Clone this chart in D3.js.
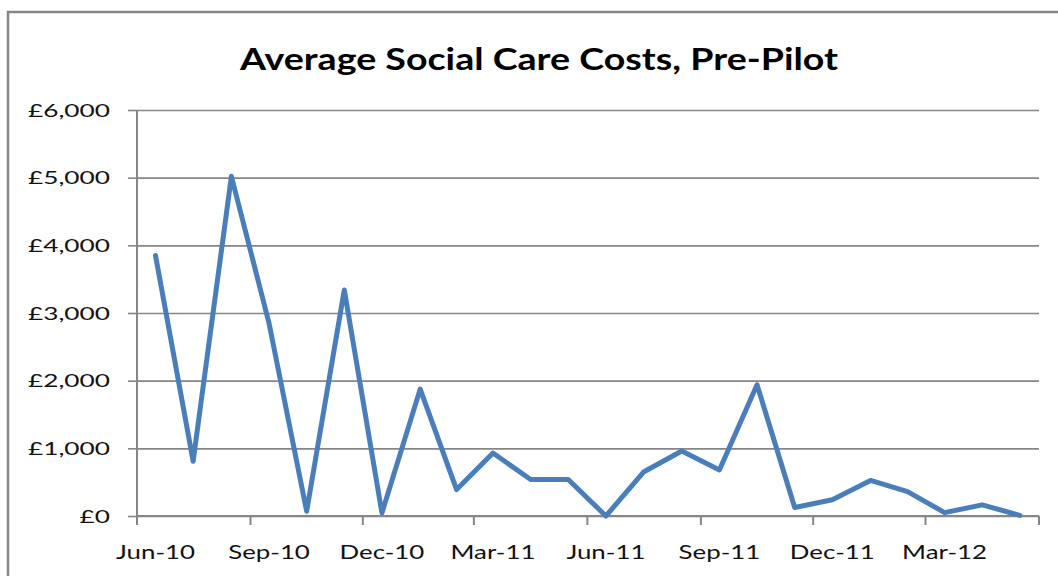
<!DOCTYPE html>
<html>
<head>
<meta charset="utf-8">
<script src="https://cdn.jsdelivr.net/npm/d3@7"></script>
<style>
  html, body { margin: 0; padding: 0; background: #fff; }
  svg { display: block; }
</style>
</head>
<body>
<svg id="chart" width="1058" height="576"></svg>
<script>
// ---- data ----
const title = "Average Social Care Costs, Pre-Pilot";
const months = ["2010-06","2010-07","2010-08","2010-09","2010-10","2010-11","2010-12",
                "2011-01","2011-02","2011-03","2011-04","2011-05","2011-06","2011-07",
                "2011-08","2011-09","2011-10","2011-11","2011-12","2012-01","2012-02",
                "2012-03","2012-04","2012-05"];
const costs = [3850, 810, 5020, 2850, 70, 3340, 45,
               1875, 390, 930, 540, 540, 0, 650,
               960, 680, 1940, 125, 240, 525, 360,
               50, 165, 10];
const xTickMonths = ["2010-06","2010-09","2010-12","2011-03","2011-06","2011-09","2011-12","2012-03","2012-06"];
const xTickLabels = ["Jun-10","Sep-10","Dec-10","Mar-11","Jun-11","Sep-11","Dec-11","Mar-12"];
const yTicks = [0, 1000, 2000, 3000, 4000, 5000, 6000];

// ---- layout ----
const svg = d3.select("#chart");
const pL = 137, pR = 1039, pT = 110, pB = 516;
const parse = d3.utcParse("%Y-%m");
const x = d3.scaleUtc()
  .domain([parse("2010-06"), parse("2012-06")])
  .range([pL, pR]);
const y = d3.scaleLinear().domain([0, 6000]).range([pB, pT]);
const mid = d => {
  const s = parse(d), e = d3.utcMonth.offset(s, 1);
  return new Date((+s + +e) / 2);
};
const gray = "#868686";

// outer border
svg.append("rect").attr("x", 8).attr("y", 12).attr("width", 1100).attr("height", 700)
  .attr("fill", "none").attr("stroke", gray).attr("stroke-width", 2.5);

// title
svg.append("text").attr("x", 539).attr("y", 70).attr("text-anchor", "middle")
  .attr("font-family", "Lato, 'Open Sans', sans-serif").attr("font-weight", "bold")
  .attr("font-size", 31).attr("fill", "#000").text(title)
  .attr("textLength", 598).attr("lengthAdjust", "spacingAndGlyphs");

// y axis gridlines
const yAxis = d3.axisLeft(y).tickValues(yTicks).tickSize(-(pR - pL))
  .tickFormat(d => "£" + d3.format(",")(d));
const gy = svg.append("g").attr("transform", `translate(${pL},0)`).call(yAxis);
gy.select(".domain").remove();
gy.selectAll(".tick line").attr("stroke", gray).attr("stroke-width", 1.6);
gy.selectAll(".tick").append("line").attr("x1", -9).attr("x2", 0)
  .attr("stroke", gray).attr("stroke-width", 1.6);
gy.selectAll(".tick text").attr("x", -27).attr("dy", "0.36em")
  .attr("font-family", "Lato, sans-serif").attr("font-weight", 400)
  .attr("font-size", 17.5).attr("fill", "#111");
const yRef = gy.selectAll(".tick text").filter(d => d === 6000).node();
const yStretch = 82 / yRef.getComputedTextLength();
gy.selectAll(".tick text").each(function() {
  const w = this.getComputedTextLength();
  d3.select(this).attr("textLength", w * yStretch).attr("lengthAdjust", "spacingAndGlyphs");
});

// y axis line
svg.append("line").attr("x1", pL).attr("x2", pL).attr("y1", pT).attr("y2", pB + 0.5)
  .attr("stroke", gray).attr("stroke-width", 2);

// x axis
const gx = svg.append("g").attr("transform", `translate(0,${pB})`);
gx.append("line").attr("x1", pL).attr("x2", pR).attr("stroke", gray).attr("stroke-width", 2);
gx.selectAll("line.tk").data(xTickMonths).join("line").attr("class", "tk")
  .attr("x1", d => x(parse(d))).attr("x2", d => x(parse(d)))
  .attr("y1", 0).attr("y2", 9).attr("stroke", gray).attr("stroke-width", 2);
const xl = gx.selectAll("text").data(xTickLabels)
  .join("text")
  .attr("x", (d, i) => x(mid(xTickMonths[i]))).attr("y", 43)
  .attr("text-anchor", "middle")
  .attr("font-family", "Lato, sans-serif").attr("font-weight", 400)
  .attr("font-size", 19).attr("fill", "#111")
  .text(d => d);
const xStretch = 79 / xl.node().getComputedTextLength();
xl.each(function() {
  const w = this.getComputedTextLength();
  d3.select(this).attr("textLength", w * xStretch).attr("lengthAdjust", "spacingAndGlyphs");
});

// line
const line = d3.line().x(d => x(mid(d.m))).y(d => y(d.v));
svg.append("path")
  .datum(months.map((m, i) => ({ m, v: costs[i] })))
  .attr("d", line)
  .attr("fill", "none")
  .attr("stroke", "#4a7ebb")
  .attr("stroke-width", 5)
  .attr("stroke-linejoin", "round")
  .attr("stroke-linecap", "round");
</script>
</body>
</html>
